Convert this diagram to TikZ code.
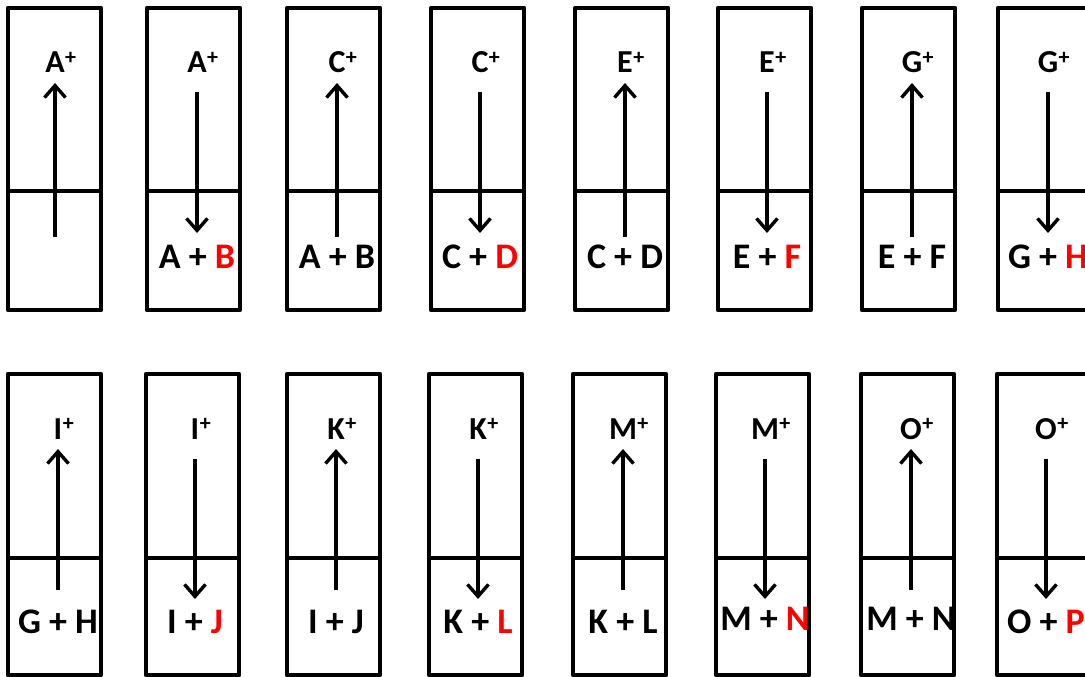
\documentclass[tikz,border=0pt]{standalone}
\usepackage{fontspec}
\setmainfont{Carlito}
\usetikzlibrary{arrows.meta}
\tikzset{
  cellbox/.style={draw, line width=4.4pt, line join=round, minimum width=93pt, inner sep=0pt, outer sep=0pt, anchor=north west},
  divline/.style={line width=3.4pt},
  flow/.style={line width=3.4pt, -{Straight Barb[length=12pt,width=21pt,line width=3.4pt]}},
  ionlbl/.style={font=\bfseries\fontsize{32}{32}\selectfont, inner sep=0pt, anchor=base},
  eqlbl/.style={font=\bfseries\fontsize{36}{36}\selectfont, inner sep=0pt, anchor=base},
}
\newcommand\ionof[1]{#1\rlap{\hspace{0.5pt}\raisebox{8.5pt}{\fontsize{22}{22}\selectfont +}}}
\newcommand\rd[1]{\textcolor{red}{#1}}
\begin{document}
\begin{tikzpicture}[x=1pt,y=-1pt]
\useasboundingbox (0,0) rectangle (1085,677);
% top row
\foreach \i/\l/\ax/\s/\e/\t/\b in {
  1/8/55/237/83/A/{},
  2/147/197/92/233/A/{A + \rd{B}},
  3/287/337/237/83/C/{A + B},
  4/431/480/92/233/C/{C + \rd{D}},
  5/575/625/237/83/E/{C + D},
  6/718/767/92/233/E/{E + \rd{F}},
  7/862/912/237/83/G/{E + F},
  8/998/1048/92/233/G/{G + \rd{H}}}{
  \node[cellbox, minimum height=302pt] (tb\i) at (\l,8) {};
  \coordinate (tdl\i) at (\l,191);
  \coordinate (tdr\i) at (\l+93,191);
  \draw[divline] (tdl\i) -- (tdr\i);
  \coordinate (tas\i) at (\ax,\s);
  \coordinate (tae\i) at (\ax,\e);
  \draw[flow] (tas\i) -- (tae\i);
  \node[ionlbl] (tion\i) at (\ax,73) {\ionof{\t}};
  \node[eqlbl] (teq\i) at (\ax,268) {\b};
}
% bottom row
\foreach \i/\l/\ax/\s/\e/\t/\b/\by in {
  1/8/58/590/449/I/{G + H}/633,
  2/146/195/459/599/I/{I + \rd{J}}/633,
  3/287/336/590/449/K/{I + J}/633,
  4/429/478/459/599/K/{K + \rd{L}}/633,
  5/573/623/590/449/M/{K + L}/633,
  6/716/765/459/599/M/{M + \rd{N}}/630,
  7/861/911/590/449/O/{M + N}/630,
  8/997/1046/459/599/O/{O + \rd{P}}/633}{
  \node[cellbox, minimum height=301pt] (bb\i) at (\l,374) {};
  \coordinate (bdl\i) at (\l,558);
  \coordinate (bdr\i) at (\l+93,558);
  \draw[divline] (bdl\i) -- (bdr\i);
  \coordinate (bas\i) at (\ax,\s);
  \coordinate (bae\i) at (\ax,\e);
  \draw[flow] (bas\i) -- (bae\i);
  \node[ionlbl] (bion\i) at (\ax,439) {\ionof{\t}};
  \node[eqlbl] (beq\i) at (\ax,\by) {\b};
}
\end{tikzpicture}
\end{document}
